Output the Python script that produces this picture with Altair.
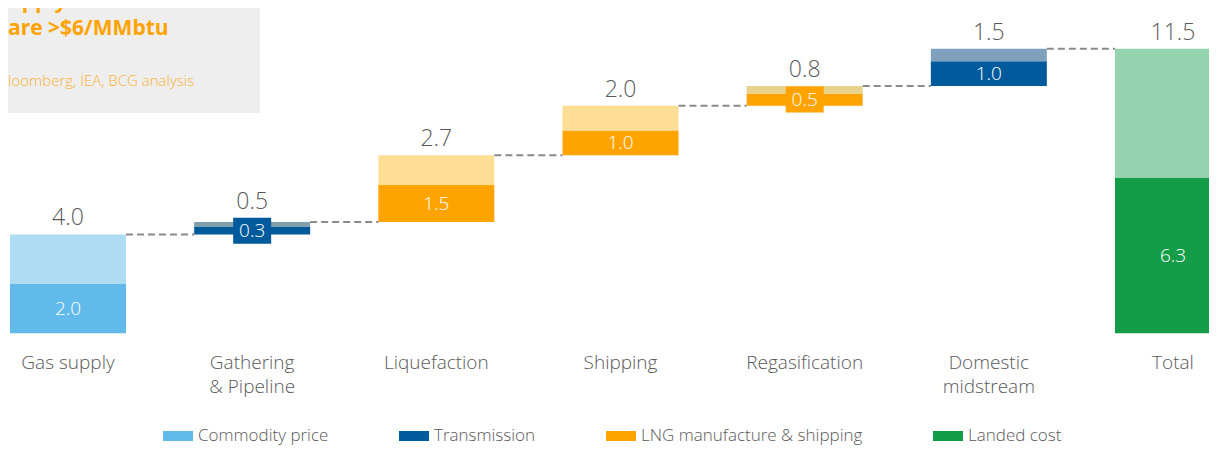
import altair as alt
import pandas as pd

# ---------------- data ----------------
categories = ["Gas supply", "Gathering\n& Pipeline", "Liquefaction", "Shipping",
              "Regasification", "Domestic\nmidstream", "Total"]
step_values = [4.0, 0.5, 2.7, 2.0, 0.8, 1.5, 11.5]
inner_values = [2.0, 0.3, 1.5, 1.0, 0.5, 1.0, 6.3]
groups = ["Commodity price", "Transmission", "LNG manufacture & shipping",
          "LNG manufacture & shipping", "LNG manufacture & shipping",
          "Transmission", "Landed cost"]
upper_keys = ["Gas supply upper", "Gathering upper", "Liquefaction upper",
              "Shipping upper", "Regasification upper", "Domestic upper", "Total upper"]
is_total = [False, False, False, False, False, False, True]

legend_items = ["Commodity price", "Transmission", "LNG manufacture & shipping", "Landed cost"]

title_line1 = "upply costs to Asia"
title_line2 = "are >$6/MMbtu"
source_line = "loomberg, IEA, BCG analysis"

# ---------------- styles / layout ----------------
legend_colors = ["#62BAEA", "#005A9C", "#FFA300", "#149C48"]
upper_colors = ["#ADDCF3", "#809FAD", "#FDDE94", "#FDDE94", "#E8D38E", "#7FA1BE", "#94D3AE"]
FONT = "Open Sans"
LIGHT = 300
GREY = "#595959"
PAD_INNER = 0.37015
X_RANGE = [2, 1223]
BOX_HALF = 0.52   # half height of the small label boxes, in value units

# ---------------- tables ----------------
seg_rows, lab_rows, conn_rows = [], [], []
run = 0.0
for i, c in enumerate(categories):
    base = 0.0 if is_total[i] else run
    mid = base + inner_values[i]
    top = base + step_values[i]
    boxed = bool(inner_values[i] < 0.8)
    seg_rows.append(dict(cat=c, seg=groups[i], y0=base, y1=mid))
    seg_rows.append(dict(cat=c, seg=upper_keys[i], y0=mid, y1=top))
    centre = (base + mid) / 2
    lab_rows.append(dict(cat=c, top=max(top, centre + BOX_HALF) if boxed else top,
                         top_text=f"{step_values[i]:.1f}",
                         mid=centre, inner_text=f"{inner_values[i]:.1f}",
                         seg=groups[i], boxed=boxed))
    if not is_total[i]:
        run = top
    if i < len(categories) - 1:
        # in "step" units: bar i ends at i + (1 - PAD_INNER), bar i+1 starts at i + 1
        conn_rows.append(dict(start=i + 1 - PAD_INNER, end=i + 1, level=top))

segs = pd.DataFrame(seg_rows)
labs = pd.DataFrame(lab_rows)
conns = pd.DataFrame(conn_rows)
one = pd.DataFrame({"k": [0]})

xscale = alt.Scale(domain=categories, range=X_RANGE, paddingInner=PAD_INNER, paddingOuter=0)
xlin = alt.Scale(domain=[0, len(categories) - PAD_INNER], range=X_RANGE, nice=False, zero=False)
yscale = alt.Scale(domain=[0, 13.15], nice=False, zero=True)
cscale = alt.Scale(domain=legend_items + upper_keys, range=legend_colors + upper_colors)

legend = alt.Legend(
    orient="none", legendX=155, legendY=413, direction="horizontal", columns=4,
    title=None, values=legend_items, symbolType="M-1,-0.333H1V0.333H-1Z",
    symbolSize=900, symbolStrokeWidth=0, symbolOpacity=1,
    labelFontSize=17, labelFont=FONT, labelFontWeight=LIGHT, labelColor=GREY, labelOffset=5,
    columnPadding=70, gridAlign="none", labelLimit=0,
)

xaxis = alt.Axis(labelExpr="split(datum.label, '\\n')", labelAngle=0, labelFontSize=19,
                 labelFont=FONT, labelFontWeight=LIGHT, labelColor=GREY, domain=False,
                 ticks=False, labelPadding=20, labelLineHeight=24, labelLimit=0,
                 labelOverlap=False, title=None)

box = alt.Chart(one).mark_rect(color="#EEEEEE").encode(
    x=alt.value(0), x2=alt.value(252), y=alt.value(0), y2=alt.value(105))

t1 = alt.Chart(one).mark_text(align="left", baseline="alphabetic", font=FONT, fontSize=21,
                              fontWeight="bold", color="#FFA300", clip=True).encode(
    x=alt.value(0), y=alt.value(0), text=alt.value(title_line1))
t2 = alt.Chart(one).mark_text(align="left", baseline="alphabetic", font=FONT, fontSize=21,
                              fontWeight="bold", color="#FFA300", clip=True).encode(
    x=alt.value(0), y=alt.value(27), text=alt.value(title_line2))
t3 = alt.Chart(one).mark_text(align="left", baseline="alphabetic", font=FONT, fontSize=15,
                              fontWeight=LIGHT, color="#F9B233", clip=True).encode(
    x=alt.value(0), y=alt.value(78), text=alt.value(source_line))

bars = alt.Chart(segs).mark_bar(clip=True).encode(
    x=alt.X("cat:N", scale=xscale, axis=xaxis),
    y=alt.Y("y0:Q", scale=yscale, axis=None),
    y2="y1:Q",
    color=alt.Color("seg:N", scale=cscale, legend=legend),
)

label_boxes = alt.Chart(labs).transform_filter("datum.boxed").mark_point(
    shape="M-1,-0.684H1V0.684H-1Z", size=1444, filled=True, opacity=1, strokeWidth=0
).encode(
    x=alt.X("cat:N", scale=xscale),
    y=alt.Y("mid:Q", scale=yscale),
    color=alt.Color("seg:N", scale=cscale, legend=None),
)

top_text = alt.Chart(labs).mark_text(dy=-9, baseline="alphabetic", font=FONT, fontSize=23,
                                     fontWeight=LIGHT, color=GREY, clip=True).encode(
    x=alt.X("cat:N", scale=xscale),
    y=alt.Y("top:Q", scale=yscale),
    text="top_text:N",
)

inner_text = alt.Chart(labs).mark_text(baseline="middle", font=FONT, fontSize=19,
                                       fontWeight=LIGHT, color="white", clip=True).encode(
    x=alt.X("cat:N", scale=xscale),
    y=alt.Y("mid:Q", scale=yscale),
    text="inner_text:N",
)

connectors = alt.Chart(conns).mark_rule(color="#8A8A8A", strokeWidth=2, strokeDash=[7, 4],
                                        clip=True).encode(
    x=alt.X("start:Q", scale=xlin, axis=None),
    x2="end:Q",
    y=alt.Y("level:Q", scale=yscale),
)

main = alt.layer(box, t1, t2, t3, bars, label_boxes, top_text, inner_text)

chart = alt.layer(connectors, main).resolve_scale(x="independent").properties(
    width=1201, height=325.5,
    padding={"left": 0, "top": 0, "right": 0, "bottom": 112.5},
    autosize=alt.AutoSizeParams(type="none"),
    background="white",
).configure_view(stroke=None)

chart.save("out.html", embed_options={"renderer": "svg", "actions": False})
